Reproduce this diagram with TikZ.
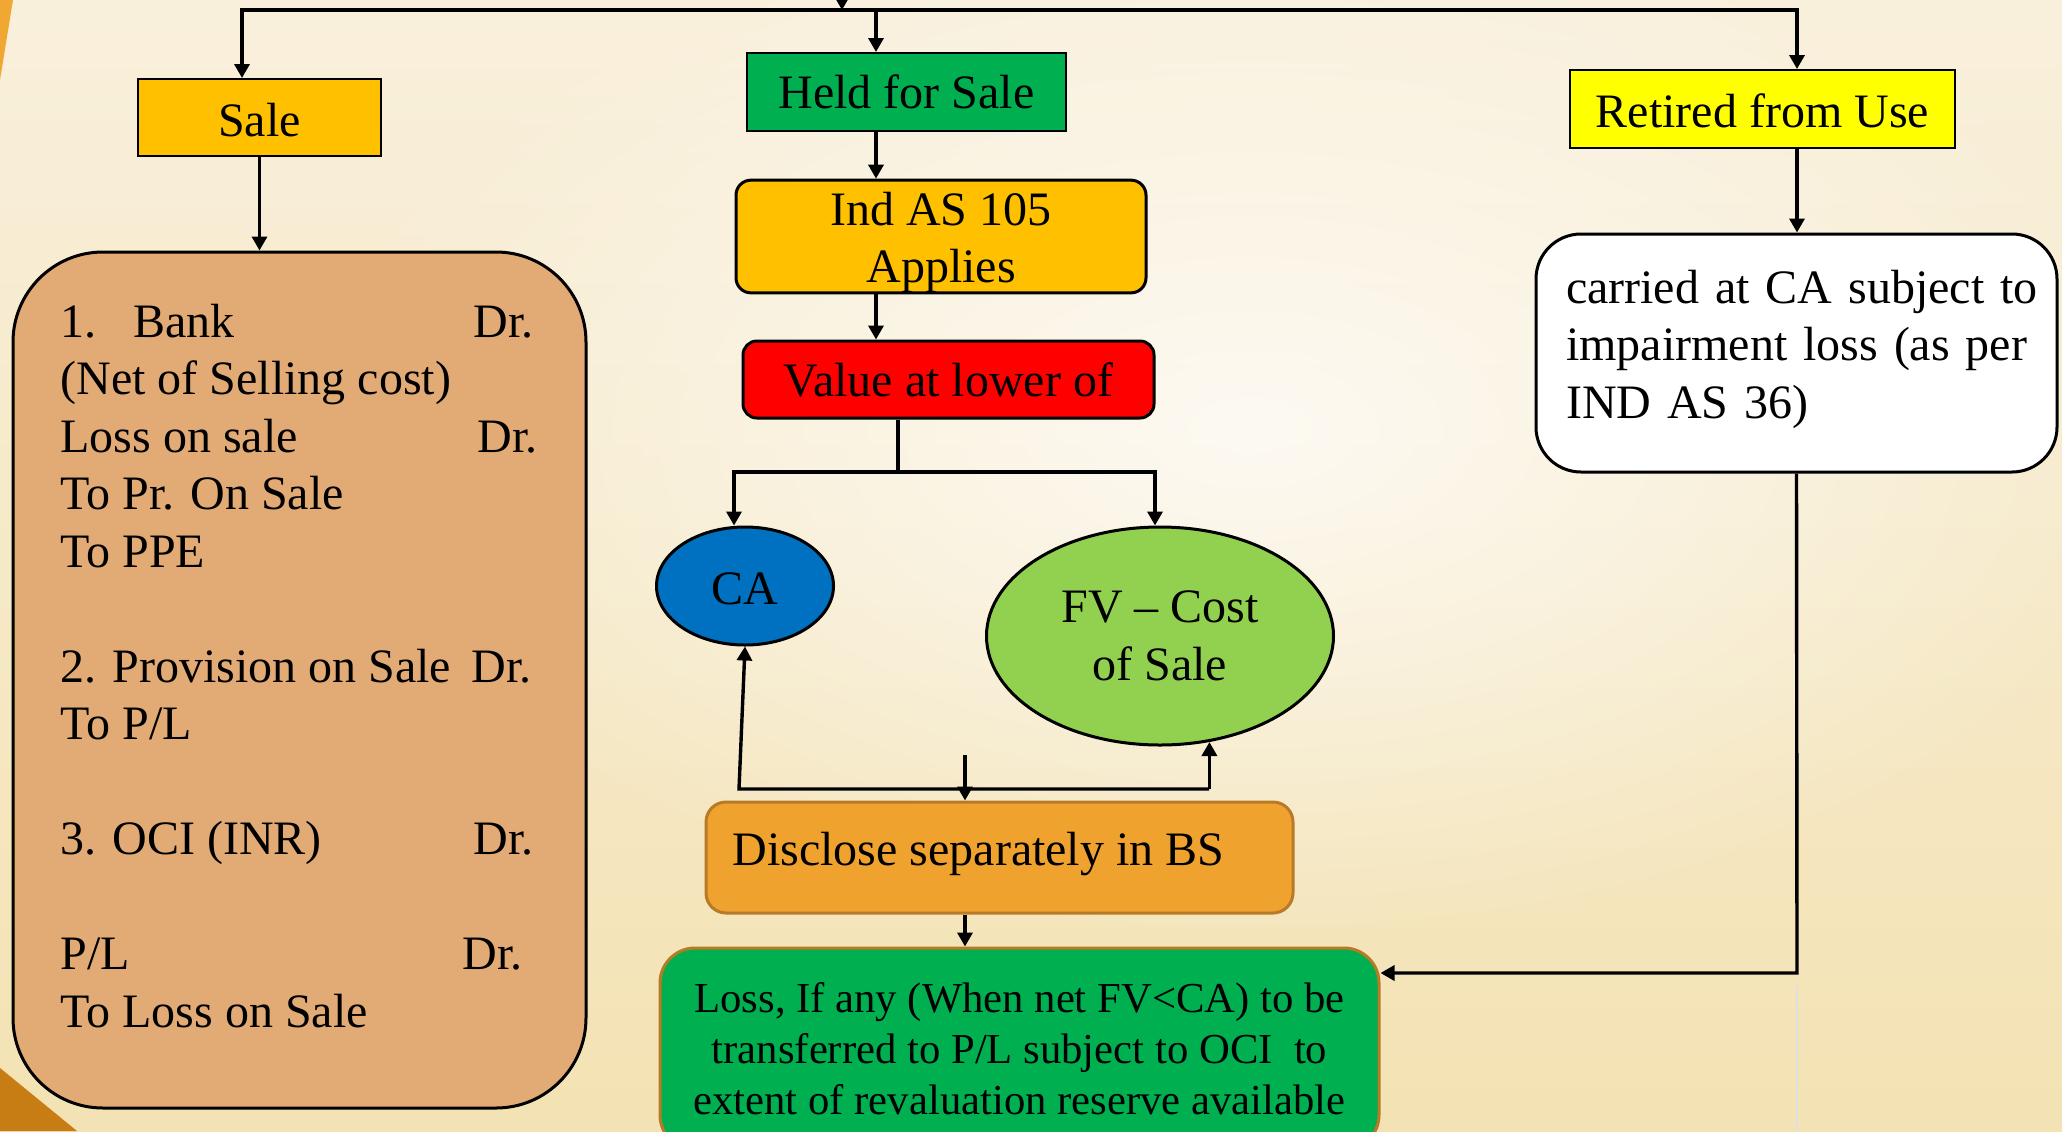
\documentclass[tikz,border=0pt]{standalone}
\usepackage{fontspec}
\setmainfont{Liberation Serif}
\usetikzlibrary{arrows.meta,shapes.geometric,fadings}

\definecolor{bgTop}{RGB}{249,240,220}
\definecolor{bgMid}{RGB}{252,249,241}
\definecolor{bgBot}{RGB}{243,226,179}
\definecolor{cornerA}{RGB}{240,168,50}
\definecolor{cornerB}{RGB}{200,125,20}
\definecolor{amber}{RGB}{255,192,0}
\definecolor{leafGreen}{RGB}{0,176,80}
\definecolor{lemon}{RGB}{255,255,0}
\definecolor{tan}{RGB}{226,171,118}
\definecolor{caBlue}{RGB}{0,112,192}
\definecolor{fvGreen}{RGB}{146,208,80}
\definecolor{discFill}{RGB}{240,162,46}
\definecolor{bronze}{RGB}{184,122,38}

\tikzfading[name=glow, inner color=transparent!0, outer color=transparent!100]

\begin{document}
\begin{tikzpicture}[x=0.5pt,y=-0.5pt,
  conn/.style={line width=1.7pt, draw=black},
  arr/.style={conn, -{Triangle[length=7pt,width=7.5pt]}},
  txt/.style={font=\fontsize{24pt}{28.75pt}\selectfont},
  box/.style={draw=black, line width=1pt, txt, inner sep=0pt, align=center},
  roundbox/.style={box, line width=1.5pt}
]
\useasboundingbox (0,0) rectangle (2062,1131);

% backdrop
\shade[top color=bgTop, middle color=bgMid, bottom color=bgBot] (0,0) rectangle (2062,1131);
\fill[white, path fading=glow, opacity=0.75] (1250,430) ellipse [x radius=950, y radius=520];
\fill[cornerA] (0,0) -- (13,0) -- (0,80) -- cycle;
\fill[cornerB] (0,1068) -- (77,1131) -- (0,1131) -- cycle;

% first row
\node[box, fill=amber, minimum width=121.5pt, minimum height=38.5pt] (sale) at (259.5,117.5) {\rule{0pt}{19pt}Sale};
\node[box, fill=leafGreen, minimum width=159.5pt, minimum height=39pt] (held) at (906.5,92) {Held for Sale};
\node[box, fill=lemon, minimum width=192.5pt, minimum height=39pt] (retired) at (1762.5,109) {\rule{0pt}{18.5pt}Retired from Use};

% sale branch: journal entries
\node[draw=black, line width=1.5pt, fill=tan, rounded corners=45pt, minimum width=286.5pt, minimum height=428pt, inner sep=0pt] (entries) at (299.5,680) {};
\node[txt, align=left, anchor=base west, inner sep=0pt] (entrytext) at (60,1027) {%
\makebox[206.5pt][l]{\makebox[36.5pt][l]{1.}Bank}Dr.\\
(Net of Selling cost)\\
\makebox[208.5pt][l]{Loss on sale}Dr.\\
To Pr. On Sale\\
To PPE\\
~\\
\makebox[205.5pt][l]{2. Provision on Sale}Dr.\\
To P/L\\
~\\
\makebox[206.5pt][l]{3. OCI (INR)}Dr.\\
~\\
\makebox[201pt][l]{P/L}Dr.\\
To Loss on Sale};

% held for sale branch
\node[roundbox, fill=amber, rounded corners=7.5pt, minimum width=205pt, minimum height=55.5pt] (indas) at (941,236.5) {\rule{0pt}{22.5pt}Ind AS 105\\Applies};
\node[roundbox, fill=red, rounded corners=7pt, minimum width=205.5pt, minimum height=38.5pt] (value) at (948.5,379.5) {Value at lower of};
\node[ellipse, draw=black, line width=1.5pt, fill=caBlue, minimum width=88.5pt, minimum height=59pt, inner sep=0pt, txt] (ca) at (745,586) {\rule{0pt}{19pt}CA};
\node[ellipse, draw=black, line width=1.5pt, fill=fvGreen, minimum width=173.5pt, minimum height=109pt, inner sep=0pt, txt, align=center] (fv) at (1160,636) {FV -- Cost\\of Sale};
\node[draw=bronze, line width=1.5pt, fill=discFill, rounded corners=10pt, minimum width=293.5pt, minimum height=55.5pt, inner sep=0pt] (disc) at (999.5,857.5) {};
\node[txt, anchor=base west, inner sep=0pt] (disctext) at (732,865) {Disclose separately in BS};
\node[draw=bronze, line width=1.5pt, fill=leafGreen, rounded corners=17.5pt, minimum width=359.5pt, minimum height=101pt, inner sep=0pt, align=center, font=\fontsize{21.35pt}{25.5pt}\selectfont] (loss) at (1019.5,1049) {Loss, If any (When net FV<CA) to be\\transferred to P/L subject to OCI~ to\\extent of revaluation reserve available};

% retired branch
\node[draw=black, line width=1.5pt, fill=white, rounded corners=22.5pt, minimum width=260.5pt, minimum height=119pt, text width=230.5pt, align=left, txt, inner sep=0pt] (carried) at (1796.5,353) {\makebox[230.5pt][s]{carried at CA subject to}\\\makebox[230.5pt][s]{impairment loss (as per}\\IND AS 36)\rule[-8.8pt]{0pt}{1pt}};

% top distribution line
\coordinate (feed) at (842,0);
\coordinate (busF) at (842,10);
\coordinate (busL) at (242,10);
\coordinate (busH) at (876,10);
\coordinate (busR) at (1797,10);
\draw[arr] (feed) -- (busF);
\draw[arr] (busR) -- (busL) -- (busL |- sale.north);
\draw[arr] (busL) -- (busR) -- (busR |- retired.north);
\draw[arr] (busH) -- (busH |- held.north);

% sale
\draw[arr] (sale.south) -- (sale.south |- entries.north);

% held for sale chain
\draw[arr] (held.south -| busH) -- (busH |- indas.north);
\draw[arr] (indas.south -| busH) -- (busH |- value.north);
\coordinate (split) at (898,472);
\coordinate (caIn) at (734,472);
\coordinate (fvIn) at (1155,472);
\draw[conn] (value.south -| split) -- (split);
\draw[arr] (fvIn) -- (caIn) -- (caIn |- ca.north);
\draw[arr] (caIn) -- (fvIn) -- (fvIn |- fv.north);
\coordinate (backL) at (739,789);
\coordinate (backR) at (1209,789);
\draw[arr] (backR) -- (backL) -- (ca.south);
\draw[arr] (fv.-65 |- backR) -- (fv.-65);
\coordinate (discIn) at (965,755);
\draw[arr] (discIn) -- (discIn |- disc.north);
\draw[arr] (disc.south -| discIn) -- (discIn |- loss.north);

% retired
\draw[arr] (retired.south -| busR) -- (busR |- carried.north);
\coordinate (retTurn) at (1797,973);
\draw[arr] (carried.south) -- (retTurn) -- (retTurn -| loss.east);
\coordinate (shadeTop) at (1797,985);
\coordinate (shadeEnd) at (1797,1131);
\draw[black!12, line width=1.2pt] (shadeTop) -- (shadeEnd);
\end{tikzpicture}
\end{document}
